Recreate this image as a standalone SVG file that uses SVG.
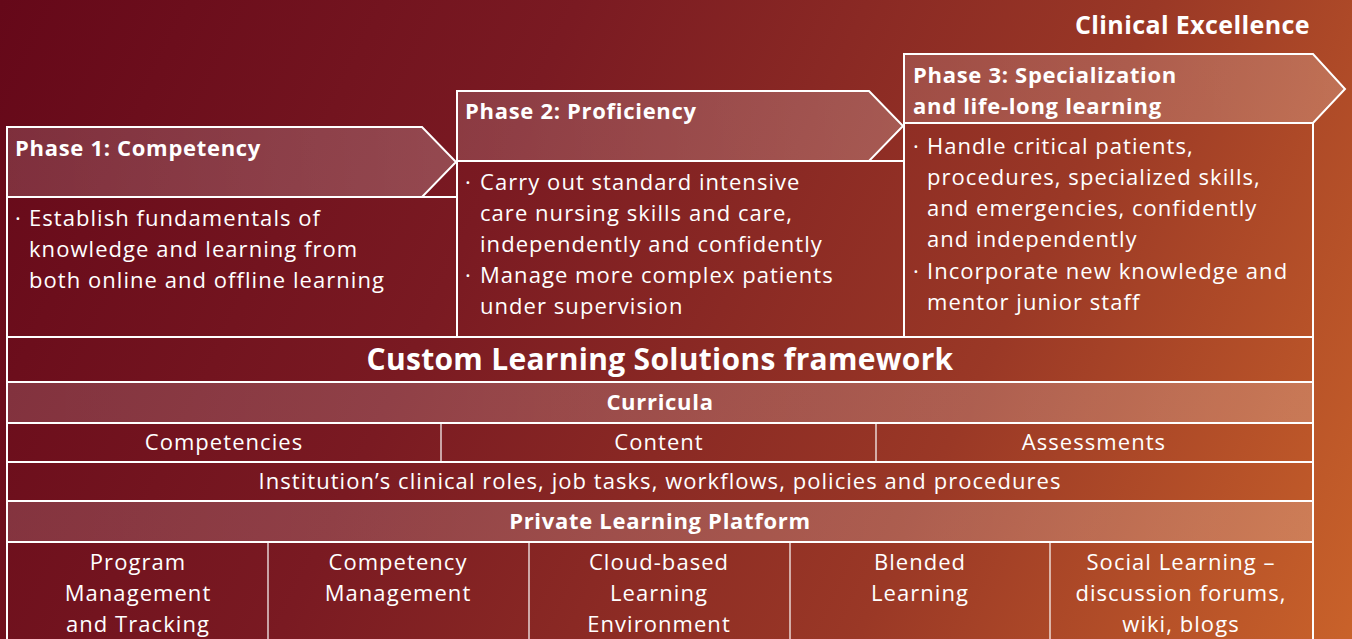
<svg xmlns="http://www.w3.org/2000/svg" width="1352" height="639" viewBox="0 0 1352 639">
<defs>
<linearGradient id="bg" x1="0" y1="0" x2="1352" y2="639" gradientUnits="userSpaceOnUse">
<stop offset="0" stop-color="#650819"/>
<stop offset="0.35" stop-color="#7a1a22"/>
<stop offset="0.7" stop-color="#9a3826"/>
<stop offset="1" stop-color="#c9622a"/>
</linearGradient>
<linearGradient id="hl" x1="0" y1="0" x2="1" y2="0">
<stop offset="0" stop-color="#ffffff" stop-opacity="0.15"/>
<stop offset="1" stop-color="#ffffff" stop-opacity="0.21"/>
</linearGradient>
<style>
.ln{fill:none;stroke:#fff;stroke-width:2}
.thin{fill:none;stroke:#fff;stroke-width:1.2}
.hd{fill:url(#hl);stroke:#fff;stroke-width:2}
text{fill:#fff;font-family:"Open Sans","Noto Sans",sans-serif}
.b{font-weight:700;font-size:22px;letter-spacing:0.7px}
.t{font-size:22px;letter-spacing:1.05px}
.m{text-anchor:middle}
</style>
</defs>
<rect width="1352" height="639" fill="url(#bg)"/>
<text x="1310" y="34" text-anchor="end" font-weight="700" font-size="25" letter-spacing="0.4">Clinical Excellence</text>
<g id="phase1">
<rect class="ln" x="7" y="197" width="450" height="140"/>
<polygon class="hd" points="7,127 422,127 456,162 422,197 7,197"/>
<text class="b" x="15" y="156">Phase 1: Competency</text>
<text class="t" x="15" y="226">·</text>
<text class="t" x="29" y="226">Establish fundamentals of</text>
<text class="t" x="29" y="257">knowledge and learning from</text>
<text class="t" x="29" y="288">both online and offline learning</text>
</g>
<g id="phase2">
<rect class="ln" x="457" y="161" width="447" height="176"/>
<polygon class="hd" points="457,91 869,91 903,126 869,161 457,161"/>
<text class="b" x="465" y="119">Phase 2: Proficiency</text>
<text class="t" x="465" y="190">·</text>
<text class="t" x="480" y="190">Carry out standard intensive</text>
<text class="t" x="480" y="221">care nursing skills and care,</text>
<text class="t" x="480" y="252">independently and confidently</text>
<text class="t" x="465" y="283">·</text>
<text class="t" x="480" y="283">Manage more complex patients</text>
<text class="t" x="480" y="314">under supervision</text>
</g>
<g id="phase3">
<rect class="ln" x="904" y="123" width="409" height="214"/>
<polygon class="hd" points="904,54 1313,54 1345,89 1313,123 904,123"/>
<text class="b" x="913" y="83">Phase 3: Specialization</text>
<text class="b" x="913" y="114">and life-long learning</text>
<text class="t" x="913" y="154">·</text>
<text class="t" x="927" y="154">Handle critical patients,</text>
<text class="t" x="927" y="185">procedures, specialized skills,</text>
<text class="t" x="927" y="216">and emergencies, confidently</text>
<text class="t" x="927" y="247">and independently</text>
<text class="t" x="913" y="279">·</text>
<text class="t" x="927" y="279">Incorporate new knowledge and</text>
<text class="t" x="927" y="310">mentor junior staff</text>
</g>
<g id="framework">
<rect class="ln" x="7" y="337" width="1306" height="45"/>
<text class="m" x="660" y="370" font-weight="700" font-size="30" letter-spacing="0.3">Custom Learning Solutions framework</text>
</g>
<g id="curricula">
<rect class="hd" x="7" y="382" width="1306" height="41"/>
<text class="b m" x="660" y="410">Curricula</text>
</g>
<g id="curricula-items">
<rect class="ln" x="7" y="423" width="1306" height="39"/>
<line class="thin" x1="441" y1="423" x2="441" y2="462"/>
<line class="thin" x1="876" y1="423" x2="876" y2="462"/>
<text class="t m" x="224" y="450">Competencies</text>
<text class="t m" x="659" y="450">Content</text>
<text class="t m" x="1094" y="450">Assessments</text>
</g>
<g id="institution">
<rect class="ln" x="7" y="462" width="1306" height="39"/>
<text class="t m" x="660" y="489">Institution’s clinical roles, job tasks, workflows, policies and procedures</text>
</g>
<g id="platform">
<rect class="hd" x="7" y="501" width="1306" height="41"/>
<text class="b m" x="660" y="529">Private Learning Platform</text>
</g>
<g id="platform-items">
<path class="ln" d="M7,542 V640 M1313,542 V640"/>
<line class="thin" x1="268" y1="542" x2="268" y2="640"/>
<line class="thin" x1="529" y1="542" x2="529" y2="640"/>
<line class="thin" x1="790" y1="542" x2="790" y2="640"/>
<line class="thin" x1="1050" y1="542" x2="1050" y2="640"/>
<text class="t m" x="138" y="570">Program</text>
<text class="t m" x="138" y="601">Management</text>
<text class="t m" x="138" y="632">and Tracking</text>
<text class="t m" x="398" y="570">Competency</text>
<text class="t m" x="398" y="601">Management</text>
<text class="t m" x="659" y="570">Cloud-based</text>
<text class="t m" x="659" y="601">Learning</text>
<text class="t m" x="659" y="632">Environment</text>
<text class="t m" x="920" y="570">Blended</text>
<text class="t m" x="920" y="601">Learning</text>
<text class="t m" x="1181" y="570">Social Learning –</text>
<text class="t m" x="1181" y="601">discussion forums,</text>
<text class="t m" x="1181" y="632">wiki, blogs</text>
</g>
</svg>
